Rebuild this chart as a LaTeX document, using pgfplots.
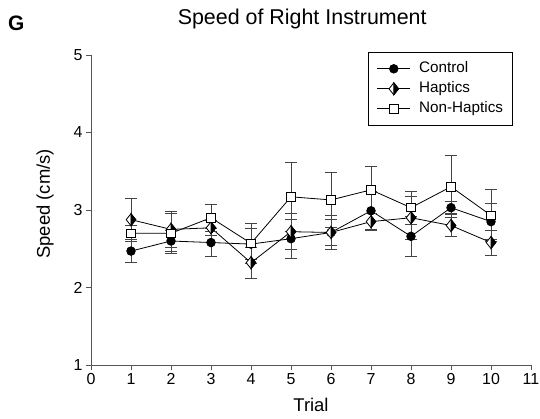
\documentclass[border=0pt]{standalone}
\usepackage{pgfplots}
\pgfplotsset{compat=1.18}
\usepackage{fontspec}
\setmainfont{Liberation Sans}

\pgfdeclareplotmark{halfdiamond}{%
  \pgfsetfillcolor{white}%
  \pgfpathmoveto{\pgfqpoint{0pt}{\pgfplotmarksize}}%
  \pgfpathlineto{\pgfqpoint{0.8\pgfplotmarksize}{0pt}}%
  \pgfpathlineto{\pgfqpoint{0pt}{-\pgfplotmarksize}}%
  \pgfpathlineto{\pgfqpoint{-0.8\pgfplotmarksize}{0pt}}%
  \pgfpathclose
  \pgfusepathqfillstroke
  \pgfsetfillcolor{black}%
  \pgfpathmoveto{\pgfqpoint{0pt}{\pgfplotmarksize}}%
  \pgfpathlineto{\pgfqpoint{0.8\pgfplotmarksize}{0pt}}%
  \pgfpathlineto{\pgfqpoint{0pt}{-\pgfplotmarksize}}%
  \pgfpathclose
  \pgfusepathqfillstroke
}

\pgfplotstableread{
x y e
1 2.47 0.15
2 2.60 0.14
3 2.58 0.18
4 2.56 0.20
5 2.63 0.25
6 2.71 0.17
7 2.99 0.25
8 2.66 0.26
9 3.03 0.08
10 2.85 0.23
}\control
\pgfplotstableread{
x y e
1 2.875 0.28
2 2.75 0.23
3 2.77 0.10
4 2.32 0.20
5 2.72 0.23
6 2.71 0.22
7 2.85 0.10
8 2.90 0.28
9 2.80 0.14
10 2.58 0.16
}\haptics
\pgfplotstableread{
x y e
1 2.70 0.10
2 2.70 0.26
3 2.90 0.17
4 2.57 0.26
5 3.17 0.44
6 3.13 0.36
7 3.26 0.30
8 3.03 0.21
9 3.30 0.40
10 2.93 0.33
}\nonhaptics

\definecolor{axgray}{HTML}{555555}
\definecolor{ebgray}{HTML}{444444}

\begin{document}
\begin{tikzpicture}
\begin{axis}[
  scale only axis,
  width=440bp, height=310bp,
  xmin=0, xmax=11, ymin=1, ymax=5,
  xtick={0,1,...,11}, ytick={1,2,3,4,5},
  axis lines*=left,
  axis line style={axgray, line width=0.9bp},
  tick style={axgray, line width=0.9bp},
  tick align=outside,
  major tick length=5bp,
  /pgf/number format/assume math mode=true,
  ticklabel style={font=\fontsize{16}{18}\selectfont},
  title={Speed of Right Instrument},
  title style={font=\fontsize{21.5}{25}\selectfont, at={(axis description cs:0.48,1)}, anchor=base, yshift=25bp},
  xlabel={Trial},
  xlabel style={font=\fontsize{18.5}{22}\selectfont, at={(axis description cs:0.5,0)}, anchor=base, yshift=-46.5bp},
  ylabel={Speed (cm/s)},
  ylabel style={font=\fontsize{18.5}{22}\selectfont, at={(axis description cs:0,0.52)}, anchor=center, yshift=46bp},
  legend cell align=left,
  legend style={at={(0.959,1.01)}, anchor=north east, draw=black, line width=0.8bp,
    font=\fontsize{15.3}{17}\selectfont, inner xsep=8bp, inner ysep=8bp, row sep=3bp,
    nodes={inner sep=1.5bp, text height=11bp, text depth=3bp},
    /tikz/every odd column/.append style={column sep=7bp}},
  legend image code/.code={\draw[mark repeat=2,mark phase=2] plot coordinates {(0bp,0bp)(16.5bp,0bp)(33bp,0bp)};},
  every axis plot/.append style={black, line width=0.8bp},
  error bars/error bar style={ebgray, line width=0.8bp},
  error bars/error mark options={rotate=90, mark size=6bp, ebgray, line width=0.8bp},
  clip=false,
]
\addplot+[black, mark=*, mark size=4.3bp, mark options={fill=black, draw=black},
  error bars/.cd, y dir=both, y explicit]
  table[x=x, y=y, y error=e] {\control};
\addlegendentry{Control}
\addplot+[black, mark=halfdiamond, mark size=6bp, mark options={draw=black, line width=0.8bp},
  error bars/.cd, y dir=both, y explicit]
  table[x=x, y=y, y error=e] {\haptics};
\addlegendentry{Haptics}
\addplot+[black, mark=square*, mark size=4.2bp, mark options={fill=white, draw=black, line width=0.8bp},
  error bars/.cd, y dir=both, y explicit]
  table[x=x, y=y, y error=e] {\nonhaptics};
\addlegendentry{Non-Haptics}
\end{axis}
\node[anchor=base west, inner sep=0pt, font=\bfseries\fontsize{21}{25}\selectfont]
  at ([xshift=-83bp, yshift=25bp]current axis.north west) {G};
\pgfresetboundingbox
\path (current axis.south west) ++(-91bp,-54bp) rectangle ++(540bp,419bp);
\end{tikzpicture}
\end{document}
